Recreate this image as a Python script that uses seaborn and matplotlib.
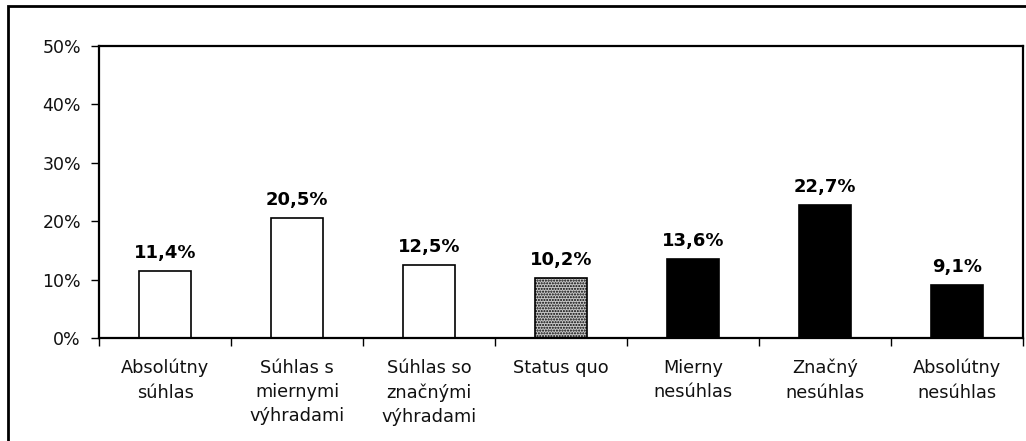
import matplotlib
matplotlib.use("Agg")
import matplotlib.pyplot as plt
import seaborn as sns
from matplotlib.patches import Rectangle
from matplotlib.ticker import FixedLocator

categories = ["Absolútny\nsúhlas", "Súhlas s\nmiernymi\nvýhradami", "Súhlas so\nznačnými\nvýhradami",
              "Status quo", "Mierny\nnesúhlas", "Značný\nnesúhlas", "Absolútny\nnesúhlas"]
values = [11.4, 20.5, 12.5, 10.2, 13.6, 22.7, 9.1]
value_labels = ["11,4%", "20,5%", "12,5%", "10,2%", "13,6%", "22,7%", "9,1%"]
bar_colors = ["white", "white", "white", "#a8a8a8", "black", "black", "black"]
yticks = [0, 10, 20, 30, 40, 50]
ytick_labels = ["0%", "10%", "20%", "30%", "40%", "50%"]

sns.set_style("white")
plt.rcParams["font.family"] = ["DejaVu Sans"]

fig = plt.figure(figsize=(10.26, 4.41), dpi=100)
ax = fig.add_axes([99/1026, 1-338/441, (1023-99)/1026, (338-46)/441])

sns.barplot(x=categories, y=values, hue=categories, palette=bar_colors, legend=False,
            width=0.4, edgecolor="black", linewidth=1.2, ax=ax, saturation=1)
for i, p in enumerate(ax.patches):
    if i == 3:
        p.set_hatch("......")
        p.set_facecolor("#c8c8c8")

ax.set_xlim(-0.5, 6.5)
ax.set_ylim(0, 50)
ax.set_yticks(yticks)
ax.set_yticklabels(ytick_labels, fontsize=12.5, color="#111111")
ax.xaxis.set_major_locator(FixedLocator(range(7)))
ax.set_xticklabels(categories, fontsize=12.8, color="#111111", linespacing=1.45)
ax.xaxis.set_minor_locator(FixedLocator([i - 0.5 for i in range(8)]))
ax.tick_params(axis="x", which="major", length=0, pad=15)
ax.tick_params(axis="x", which="minor", length=6, width=1, color="black", direction="out", bottom=True)
ax.tick_params(axis="y", length=6, width=1, color="black", direction="out", left=True, pad=7)
ax.set_xlabel("")
ax.set_ylabel("")

for s in ax.spines.values():
    s.set_color("black")
    s.set_linewidth(1.6)

for i, (v, lab) in enumerate(zip(values, value_labels)):
    ax.annotate(lab, (i, v), xytext=(0, 6.5), textcoords="offset points",
                ha="center", va="bottom", fontsize=13, fontweight="bold", color="black")

fig.patches.append(Rectangle((8/1026, -0.1), 1.2, 1 - 6/441 + 0.1, transform=fig.transFigure,
                             fill=False, edgecolor="black", linewidth=2, zorder=0))

fig.savefig("out.png", dpi=100)
